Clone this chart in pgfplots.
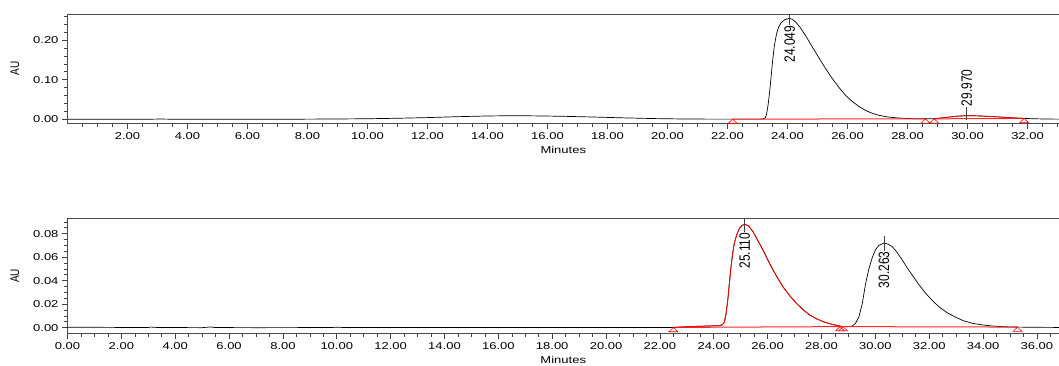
\documentclass[border=0pt]{standalone}
\usepackage{pgfplots}
\pgfplotsset{compat=1.18}
\usepackage{pgfplotstable}
\usepackage{fontspec}
\setmainfont{Liberation Sans}[FakeStretch=1.3]
\newfontfamily\rotfont{Liberation Sans}

\pgfplotstableread{
t a
0 0.0003
1 0.0003
2 0.0002
2.8 0.0003
3.1 0.0007
3.4 0.0003
5 0.0002
7 0.0002
8 0.0004
9 0.0008
10 0.0014
11 0.0026
12 0.0043
13 0.0066
14 0.0084
14.7 0.0090
15.5 0.0087
16.5 0.0076
17.5 0.0058
18.5 0.0037
19.5 0.0019
20.5 0.0008
21.5 0.0004
22.5 0.0004
23.1 0.0005
23.2 0.0012
23.26 0.004
23.30 0.012
23.35 0.035
23.40 0.066
23.45 0.105
23.50 0.145
23.56 0.185
23.63 0.214
23.70 0.232
23.78 0.243
23.90 0.251
24.05 0.255
24.17 0.252
24.28 0.245
24.42 0.232
24.56 0.216
24.70 0.199
24.83 0.182
25.00 0.161
25.17 0.140
25.33 0.121
25.50 0.102
25.72 0.080
25.94 0.060
26.16 0.045
26.39 0.032
26.61 0.022
26.83 0.015
27.05 0.010
27.28 0.0065
27.6 0.0038
27.94 0.0022
28.2 0.0015
28.5 0.0012
28.89 0.0012
29.2 0.004
29.6 0.0075
29.97 0.0092
30.4 0.0085
30.8 0.0070
31.2 0.0052
31.6 0.0033
31.89 0.0022
32.3 0.0012
32.7 0.0006
33.05 0.0004
}\topdata

\pgfplotstableread{
t a
0 0.0004
1 0.0003
2 0.0002
3 0.0002
3.1 0.0005
3.3 0.0002
4 0.0001
5 0.0000
5.3 0.0006
5.5 0.0001
7 0.0000
9.8 0.0001
10 0.0004
10.3 0.0001
12 0.0001
16 0.0002
20 0.0002
22 0.0002
22.5 0.0002
23.0 0.0008
23.6 0.0013
24.2 0.0017
24.32 0.0025
24.39 0.0045
24.45 0.011
24.52 0.0235
24.58 0.038
24.64 0.052
24.70 0.063
24.76 0.0716
24.85 0.079
24.95 0.0844
25.05 0.0870
25.15 0.0880
25.29 0.0866
25.46 0.0815
25.64 0.0740
25.83 0.066
26.01 0.0575
26.20 0.049
26.39 0.0415
26.57 0.0348
26.82 0.0272
27.07 0.0207
27.32 0.0152
27.56 0.0108
27.81 0.0076
28.06 0.0051
28.36 0.0030
28.72 0.0012
28.95 0.0008
29.14 0.0014
29.26 0.0035
29.39 0.0093
29.51 0.020
29.64 0.0377
29.76 0.050
29.89 0.060
30.01 0.0665
30.13 0.070
30.32 0.072
30.48 0.0710
30.63 0.0688
30.81 0.0640
31.00 0.0575
31.18 0.0510
31.37 0.0447
31.62 0.0365
31.87 0.0292
32.11 0.0232
32.36 0.0178
32.66 0.0128
32.99 0.0088
33.26 0.0060
33.60 0.0037
33.96 0.0024
34.35 0.0014
34.76 0.0008
35.22 0.0005
36 0.0003
36.82 0.0002
}\bottomdata

\tikzset{
  peaklbl/.style={font=\rotfont\fontsize{12}{12}\selectfont, xscale=1.25, rotate=90, inner sep=0.8pt},
  peakline/.style={black!75, line width=0.7pt},
}
\pgfplotsset{
  chrom/.style={
    scale only axis, width=991.5pt, anchor=south west, clip=false,
    axis line style={black!70, line width=0.8pt},
    tick align=outside, tick pos=left,
    major tick length=5.5pt, minor tick length=3.5pt,
    every tick/.style={black!75, line width=0.6pt},
    tick label style={font=\fontsize{10}{12}\selectfont},
    scaled ticks=false,
    /pgf/number format/fixed, /pgf/number format/fixed zerofill,
    /pgf/number format/precision=2, /pgf/number format/assume math mode=true,
    xlabel={Minutes},
    xlabel style={at={(axis description cs:0.5,0)}, anchor=center, yshift=-27pt, font=\fontsize{10}{12}\selectfont},
    ylabel={AU},
    ylabel style={at={(axis description cs:-0.05295,0.5)}, anchor=center, font=\rotfont\fontsize{10}{12}\selectfont, rotate=-90, xscale=1.25, rotate=90},
  },
  caret/.style={red, only marks, mark=triangle, mark size=5.2pt,
    mark options={line width=0.6pt, fill=none, yshift=-2.9pt, yscale=0.55}},
  redbase/.style={red!85, line width=1pt},
}

\begin{document}
\begin{tikzpicture}
\path[use as bounding box] (0pt,0pt) rectangle (1059pt,365pt);

% top chromatogram
\begin{axis}[chrom, at={(67.5pt,241.7pt)}, height=109.3pt,
  xmin=0, xmax=33.05, ymin=-0.0101, ymax=0.2658,
  xtick={2,4,...,32}, minor xtick={0.5,1,...,33},
  ytick={0,0.1,0.2}, minor ytick={0,0.02,...,0.26}]
\addplot[black, line width=0.7pt] table[x=t,y=a] {\topdata};
\addplot[redbase] coordinates {(22.17,0.0004) (28.6,0.0012)};
\addplot[redbase] coordinates {(28.89,0.0012) (31.89,0.0022)};
\addplot[red, line width=0.7pt, restrict x to domain=28.88:31.9] table[x=t,y=a] {\topdata};
\addplot[caret] coordinates {(22.17,0.0004) (28.6,0.0012) (28.89,0.0012) (31.89,0.0022)};
\draw[peakline] ([yshift=4.3pt]axis cs:24.07,0.255) -- ([yshift=-6.5pt]axis cs:24.07,0.255);
\node[peaklbl, anchor=east] at ([yshift=-6.5pt]axis cs:24.07,0.255) {24.049};
\draw[peakline] ([yshift=8.5pt]axis cs:29.97,0.0092) -- ([yshift=-4pt]axis cs:29.97,0.0092);
\node[peaklbl, anchor=west] at ([yshift=8.5pt]axis cs:29.97,0.0092) {29.970};
\end{axis}

% bottom chromatogram
\begin{axis}[chrom, at={(67.5pt,31.7pt)}, height=114.8pt,
  xmin=0, xmax=36.82, ymin=-0.0048, ymax=0.0929,
  xtick={0,2,...,36}, minor xtick={0,0.5,...,36.5},
  ytick={0,0.02,...,0.08}, minor ytick={0,0.005,...,0.09}]
\addplot[black, line width=0.7pt] table[x=t,y=a] {\bottomdata};
\addplot[redbase] coordinates {(22.5,0.0002) (28.74,0.0009) (35.28,0.0005)};
\addplot[red, line width=0.8pt, restrict x to domain=22.49:28.73] table[x=t,y=a] {\bottomdata};
\addplot[caret] coordinates {(22.5,0.0002) (28.69,0.0009) (28.8,0.0009) (35.28,0.0005)};
\draw[peakline] ([yshift=6pt]axis cs:25.15,0.088) -- ([yshift=-7.5pt]axis cs:25.15,0.088);
\node[peaklbl, anchor=east] at ([yshift=-7.5pt]axis cs:25.15,0.088) {25.110};
\draw[peakline] ([yshift=6.7pt]axis cs:30.32,0.072) -- ([yshift=-7.5pt]axis cs:30.32,0.072);
\node[peaklbl, anchor=east] at ([yshift=-7.5pt]axis cs:30.32,0.072) {30.263};
\end{axis}
\end{tikzpicture}
\end{document}
